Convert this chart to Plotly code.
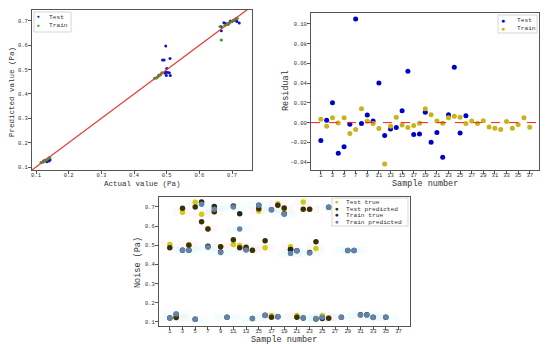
import plotly.graph_objects as go

# ---------------- data ----------------
# Panel 1: actual vs predicted
sc_test_actual = [0.497, 0.487, 0.492, 0.510, 0.500, 0.497, 0.503, 0.508, 0.499, 0.511, 0.495,
                  0.667, 0.667, 0.675, 0.680, 0.690, 0.695, 0.700, 0.705, 0.712, 0.722, 0.715,
                  0.123, 0.133, 0.140, 0.143, 0.128]
sc_test_pred = [0.597, 0.540, 0.540, 0.546, 0.505, 0.490, 0.488, 0.487, 0.476, 0.476, 0.485,
                0.660, 0.676, 0.693, 0.690, 0.692, 0.700, 0.698, 0.703, 0.702, 0.692, 0.698,
                0.125, 0.122, 0.125, 0.130, 0.128]
sc_train_actual = [0.667, 0.663, 0.678, 0.685, 0.692, 0.698, 0.703, 0.708, 0.712, 0.716, 0.688,
                   0.463, 0.468, 0.472, 0.475, 0.478, 0.482, 0.485, 0.476,
                   0.115, 0.120, 0.123, 0.127, 0.130, 0.135, 0.140, 0.142]
sc_train_pred = [0.622, 0.677, 0.682, 0.687, 0.692, 0.697, 0.702, 0.706, 0.710, 0.711, 0.685,
                 0.465, 0.466, 0.470, 0.474, 0.476, 0.480, 0.487, 0.478,
                 0.118, 0.120, 0.122, 0.125, 0.128, 0.133, 0.138, 0.137]

# Panel 2: residuals
test_resid = [-0.018, 0.0024, 0.020, -0.031, -0.0245, -0.0017, 0.105, -0.001, 0.0078, 0.0017,
              0.040, -0.013, -0.0065, -0.005, 0.012, 0.052, -0.012, -0.0116, 0.0105, -0.020,
              -0.010, -0.035, 0.008, 0.056, -0.0105, 0.007]
train_resid = [0.0034, -0.0037, 0.0048, -0.0003, 0.005, -0.011, -0.007, 0.014, 0.0014, -0.001,
               -0.006, -0.042, -0.0037, 0.0054, -0.0024, -0.005, -0.003, -0.0007, 0.014, 0.008,
               0.0017, -0.0007, 0.005, 0.0065, 0.0054, -0.001, 0.0017, -0.001, 0.002, -0.0044,
               -0.0058, -0.007, 0.001, -0.0058, -0.002, 0.0048, -0.0048]
test_resid_x = list(range(1, len(test_resid) + 1))
train_resid_x = list(range(1, len(train_resid) + 1))
sample_ticks = list(range(1, 38, 2))

# Panel 3: noise per sample
test_x = [1, 2, 3, 4, 5, 6, 7, 8, 9, 11, 12, 13, 14, 15, 16, 17, 18, 19, 20, 21, 22, 23, 24, 25, 26]
test_true = [0.504, 0.123, 0.672, 0.504, 0.724, 0.662, 0.587, 0.675, 0.492,
             0.504, 0.499, 0.487, 0.474, 0.679, 0.487, 0.134, 0.717, 0.690, 0.492, 0.134,
             0.726, 0.688, 0.483, 0.134, 0.121]
test_pred = [0.487, 0.123, 0.693, 0.500, 0.700, 0.623, 0.585, 0.675, 0.492,
             0.529, 0.487, 0.490, 0.474, 0.691, 0.524, 0.125, 0.709, 0.695, 0.478, 0.125,
             0.688, 0.688, 0.519, 0.118, 0.120]
train_x = [1, 2, 3, 4, 5, 6, 7, 8, 9, 10, 11, 12, 13, 14, 15, 16, 17, 18, 19, 20, 21, 22, 23,
           24, 25, 26, 28, 29, 30, 31, 32, 33, 35]
train_true = [0.121, 0.140, 0.474, 0.474, 0.114, 0.726, 0.495, 0.702, 0.465, 0.125, 0.705,
              0.665, 0.478, 0.118, 0.709, 0.135, 0.686, 0.127, 0.665, 0.478, 0.471, 0.121,
              0.462, 0.116, 0.122, 0.698, 0.125, 0.473, 0.473, 0.138, 0.138, 0.124, 0.125]
train_pred = [0.121, 0.141, 0.474, 0.474, 0.114, 0.714, 0.490, 0.688, 0.462, 0.125, 0.700,
              0.585, 0.476, 0.118, 0.709, 0.134, 0.686, 0.127, 0.662, 0.457, 0.471, 0.121,
              0.460, 0.118, 0.125, 0.698, 0.125, 0.473, 0.473, 0.137, 0.137, 0.123, 0.125]

# ---------------- style ----------------
W, H = 550, 344
FONT = "Liberation Mono"
AX = "#555555"
TXT = "#333333"


def px(x):
    return x / W


def py(y):
    return 1 - y / H


X1_RANGE = [0.0877, 0.761]
Y1_RANGE = [0.0877, 0.745]

fig = go.Figure()

# Panel 1
fig.add_trace(go.Scatter(x=sc_test_actual, y=sc_test_pred, mode="markers", name="Test",
                         marker=dict(size=3, color="#1515c8"), xaxis="x", yaxis="y"))
fig.add_trace(go.Scatter(x=sc_train_actual, y=sc_train_pred, mode="markers", name="Train",
                         marker=dict(size=3, color="#22a022"), xaxis="x", yaxis="y"))
fig.add_trace(go.Scatter(x=[X1_RANGE[0], X1_RANGE[1]], y=[X1_RANGE[0], X1_RANGE[1]],
                         mode="lines", line=dict(color="#e8403a", width=1.3),
                         xaxis="x", yaxis="y", showlegend=False))

# Panel 2
fig.add_trace(go.Scatter(x=test_resid_x, y=test_resid, mode="markers", name="Test",
                         marker=dict(size=5, color="#0000cc"), xaxis="x2", yaxis="y2"))
fig.add_trace(go.Scatter(x=train_resid_x, y=train_resid, mode="markers", name="Train",
                         marker=dict(size=5, color="#c8b418"), xaxis="x2", yaxis="y2"))

# Panel 3
C_TT, C_TP, C_RT, C_RP = "#cccc10", "#3b2f08", "#1e2a1a", "#6482aa"
fig.add_trace(go.Scatter(x=test_x, y=test_true, mode="markers", name="Test true",
                         marker=dict(size=5.5, color=C_TT), xaxis="x3", yaxis="y3"))
fig.add_trace(go.Scatter(x=test_x, y=test_pred, mode="markers", name="Test predicted",
                         marker=dict(size=5.5, color=C_TP), xaxis="x3", yaxis="y3"))
fig.add_trace(go.Scatter(x=train_x, y=train_true, mode="markers", name="Train true",
                         marker=dict(size=5.5, color=C_RT), xaxis="x3", yaxis="y3"))
fig.add_trace(go.Scatter(x=train_x, y=train_pred, mode="markers", name="Train predicted",
                         marker=dict(size=5.5, color=C_RP), xaxis="x3", yaxis="y3"))

shapes = []
# faint highlight boxes around points in panel 3
for xv, yv in zip(test_x, test_true):
    shapes.append(dict(type="rect", xref="x3", yref="y3", x0=xv - 1.5, x1=xv + 1.5,
                       y0=yv - 0.02, y1=yv + 0.02, fillcolor="rgba(255,190,210,0.10)",
                       line=dict(width=0), layer="below"))
for xv, yv in zip(train_x, train_pred):
    shapes.append(dict(type="rect", xref="x3", yref="y3", x0=xv - 2, x1=xv + 2,
                       y0=yv - 0.018, y1=yv + 0.018, fillcolor="rgba(170,235,240,0.10)",
                       line=dict(width=0), layer="below"))
# zero line in residual panel
shapes.append(dict(type="line", xref="x2 domain", yref="y2", x0=0, x1=1, y0=0, y1=0,
                   line=dict(color="#ff1a1a", width=1, dash="dash")))

# manual legends
legend_boxes = [(34, 12, 71, 32), (498, 15, 537, 33), (332, 198, 408, 226)]
for x0, y0, x1, y1 in legend_boxes:
    shapes.append(dict(type="rect", xref="paper", yref="paper", x0=px(x0), x1=px(x1),
                       y0=py(y1), y1=py(y0), line=dict(color="#cccccc", width=0.8),
                       fillcolor="rgba(255,255,255,0.85)"))

annotations = []


def note(text, x, y, size, color=TXT, angle=0, xanchor="center"):
    annotations.append(dict(text=text, x=px(x), y=py(y), xref="paper", yref="paper",
                            showarrow=False, textangle=angle, xanchor=xanchor,
                            yanchor="middle", font=dict(family=FONT, size=size, color=color)))


legend_items = [
    (38, 17.5, 47, "Test", "#1515c8", 5),
    (38, 25.5, 47, "Train", "#22a022", 5),
    (503, 20.5, 515, "Test", "#0000cc", 7),
    (503, 28.5, 515, "Train", "#c8b418", 7),
    (337, 202.5, 344, "Test true", C_TT, 6.5),
    (337, 209, 344, "Test predicted", C_TP, 6.5),
    (337, 215.5, 344, "Train true", C_RT, 6.5),
    (337, 222, 344, "Train predicted", C_RP, 6.5),
]
for mx, my, tx, label, col, msz in legend_items:
    note("●", mx, my, msz, color=col)
    note(label, tx, my, 6.2, xanchor="left")

# axis titles
note("Actual value (Pa)", 142, 184, 7.5)
note("Predicted value (Pa)", 12, 92, 7.5, angle=-90)
note("Sample number", 425, 184.5, 8.5)
note("Residual", 286, 91, 8.5, angle=-90)
note("Sample number", 284, 339.5, 8.5)
note("Noise (Pa)", 138, 263, 8.5, angle=-90)

axis_common = dict(showline=True, mirror=True, linecolor=AX, linewidth=1, ticks="outside",
                   ticklen=3, tickcolor=AX, showgrid=False, zeroline=False,
                   tickfont=dict(family=FONT, size=5.5, color=TXT))
x_common = dict(axis_common, ticklabelstandoff=-4)
y_common = dict(axis_common, ticklabelstandoff=-1)

fig.update_layout(
    width=W, height=H, margin=dict(l=0, r=0, t=0, b=0),
    paper_bgcolor="white", plot_bgcolor="white", showlegend=False,
    xaxis=dict(domain=[px(32), px(252)], range=X1_RANGE, anchor="y",
               tickvals=[0.1, 0.2, 0.3, 0.4, 0.5, 0.6, 0.7], tickformat=".1f", **x_common),
    yaxis=dict(domain=[py(170), py(10)], range=Y1_RANGE, anchor="x",
               tickvals=[0.1, 0.2, 0.3, 0.4, 0.5, 0.6, 0.7], tickformat=".1f", **y_common),
    xaxis2=dict(domain=[px(311), px(539)], range=[-0.7, 38.6], anchor="y2",
                tickvals=sample_ticks, **x_common),
    yaxis2=dict(domain=[py(170), py(13)], range=[-0.048, 0.111], anchor="x2",
                tickvals=[-0.04, -0.02, 0.0, 0.02, 0.04, 0.06, 0.08, 0.10], tickformat=".2f",
                **y_common),
    xaxis3=dict(domain=[px(159), px(410)], range=[-0.7, 38.8], anchor="y3",
                tickvals=sample_ticks, **x_common),
    yaxis3=dict(domain=[py(326), py(197)], range=[0.079, 0.752], anchor="x3",
                tickvals=[0.1, 0.2, 0.3, 0.4, 0.5, 0.6, 0.7], tickformat=".1f", **y_common),
    shapes=shapes, annotations=annotations,
)

fig.write_html("out.html", config={"displayModeBar": False},
               post_script="document.body.style.margin='0px';")
